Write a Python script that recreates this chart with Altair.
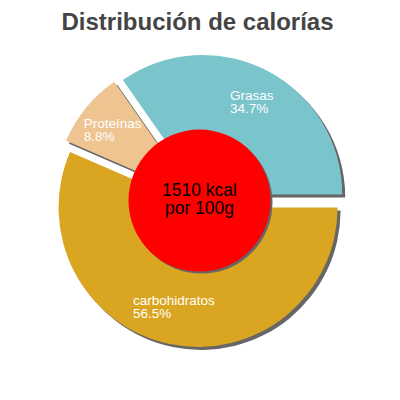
import math
import altair as alt
import pandas as pd

# ---- data ----
labels = ["carbohidratos", "Proteínas", "Grasas"]
percents = [56.5, 8.8, 34.7]
colors = ["#DAA520", "#EEC591", "#7AC4CC"]
center_lines = ["1510 kcal", "por 100g"]
title_text = "Distribución de calorías"

# ---- layout ----
W, H = 384, 384
PCX, PCY = 199.5, 200.6          # pie centre in page pixels
R_OUT = 139.5
EXPLODE = 7
SHADOW = 3
LABEL_R = 110
CIRCLE_R = 71

xdom = [8 - PCX, 8 + W - PCX]
ydom = [PCY - (8 + H), PCY - 8]
xs = alt.Scale(domain=xdom, range=[0, W], nice=False, zero=False)
ys = alt.Scale(domain=ydom, range=[H, 0], nice=False, zero=False)
ts = alt.Scale(domain=[0, 100], range=[math.pi / 2, math.pi / 2 + 2 * math.pi])

df = pd.DataFrame({"label": labels, "pct": percents, "order": list(range(len(labels)))})

base = (
    alt.Chart(df)
    .transform_window(cum="sum(pct)", sort=[alt.SortField("order")], frame=[None, 0])
    .transform_calculate(
        t0="datum.cum - datum.pct",
        mid="(datum.cum - datum.pct / 2) / 100 * 2 * PI + PI / 2",
    )
    .transform_calculate(
        ex=f"{EXPLODE} * sin(datum.mid)",
        ey=f"{EXPLODE} * cos(datum.mid)",
    )
    .transform_calculate(
        sx=f"datum.ex + {SHADOW}",
        sy=f"datum.ey - {SHADOW}",
        pstr="format(datum.pct, '.1f') + '%'",
    )
    .transform_calculate(
        txt="datum.label + '\\n' + datum.pstr",
        lx=f"{LABEL_R} * sin(datum.mid) - 6.8 * max(length(datum.label), length(datum.pstr)) / 2",
        ly=f"{LABEL_R} * cos(datum.mid)",
    )
)

theta = alt.Theta("t0:Q", scale=ts)
theta2 = alt.Theta2("cum:Q")

shadows = base.mark_arc(outerRadius=R_OUT, color="#666666").encode(
    theta=theta, theta2=theta2,
    x=alt.X("sx:Q", scale=xs, axis=None),
    y=alt.Y("sy:Q", scale=ys, axis=None),
)

slices = base.mark_arc(outerRadius=R_OUT).encode(
    theta=theta, theta2=theta2,
    x=alt.X("ex:Q", scale=xs, axis=None),
    y=alt.Y("ey:Q", scale=ys, axis=None),
    color=alt.Color("label:N", scale=alt.Scale(domain=labels, range=colors), legend=None),
)

labels_layer = base.mark_text(
    align="left", baseline="alphabetic", lineBreak="\n", lineHeight=13.5, dy=-3.5,
    fontSize=13.5, font="Liberation Sans", color="white",
).encode(
    x=alt.X("lx:Q", scale=xs, axis=None),
    y=alt.Y("ly:Q", scale=ys, axis=None),
    text="txt:N",
)

cdf = pd.DataFrame({"x": [0.0], "y": [0.0], "txt": ["\n".join(center_lines)]})
cbase = alt.Chart(cdf)
CSIZE = (2 * CIRCLE_R) ** 2

circle_shadow = cbase.transform_calculate(sx="datum.x + 2", sy="datum.y - 2").mark_circle(
    size=CSIZE, color="#666666", opacity=1
).encode(
    x=alt.X("sx:Q", scale=xs, axis=None),
    y=alt.Y("sy:Q", scale=ys, axis=None),
)

circle = cbase.mark_circle(size=CSIZE, color="#FF0000", opacity=1).encode(
    x=alt.X("x:Q", scale=xs, axis=None),
    y=alt.Y("y:Q", scale=ys, axis=None),
)

center_text = cbase.mark_text(
    align="center", baseline="alphabetic", lineBreak="\n", lineHeight=18.5, dy=-4.8,
    fontSize=17.5, font="Liberation Sans", color="black",
).encode(
    x=alt.X("x:Q", scale=xs, axis=None),
    y=alt.Y("y:Q", scale=ys, axis=None),
    text="txt:N",
)

tdf = pd.DataFrame({"title": [title_text]})
title_layer = alt.Chart(tdf).mark_text(
    align="center", baseline="alphabetic", fontSize=24, fontWeight="bold",
    font="Liberation Sans", color="#444444",
).encode(
    x=alt.value(197.5 - 8),
    y=alt.value(30 - 8),
    text="title:N",
)

chart = (
    alt.layer(shadows, slices, circle_shadow, circle, labels_layer, center_text, title_layer)
    .properties(
        width=W,
        height=H,
        autosize=alt.AutoSizeParams(type="none"),
        padding={"top": 0, "left": 0, "right": 0, "bottom": 0},
    )
    .configure_view(strokeWidth=0)
)

chart.save("out.html", embed_options={"renderer": "svg", "actions": False})
